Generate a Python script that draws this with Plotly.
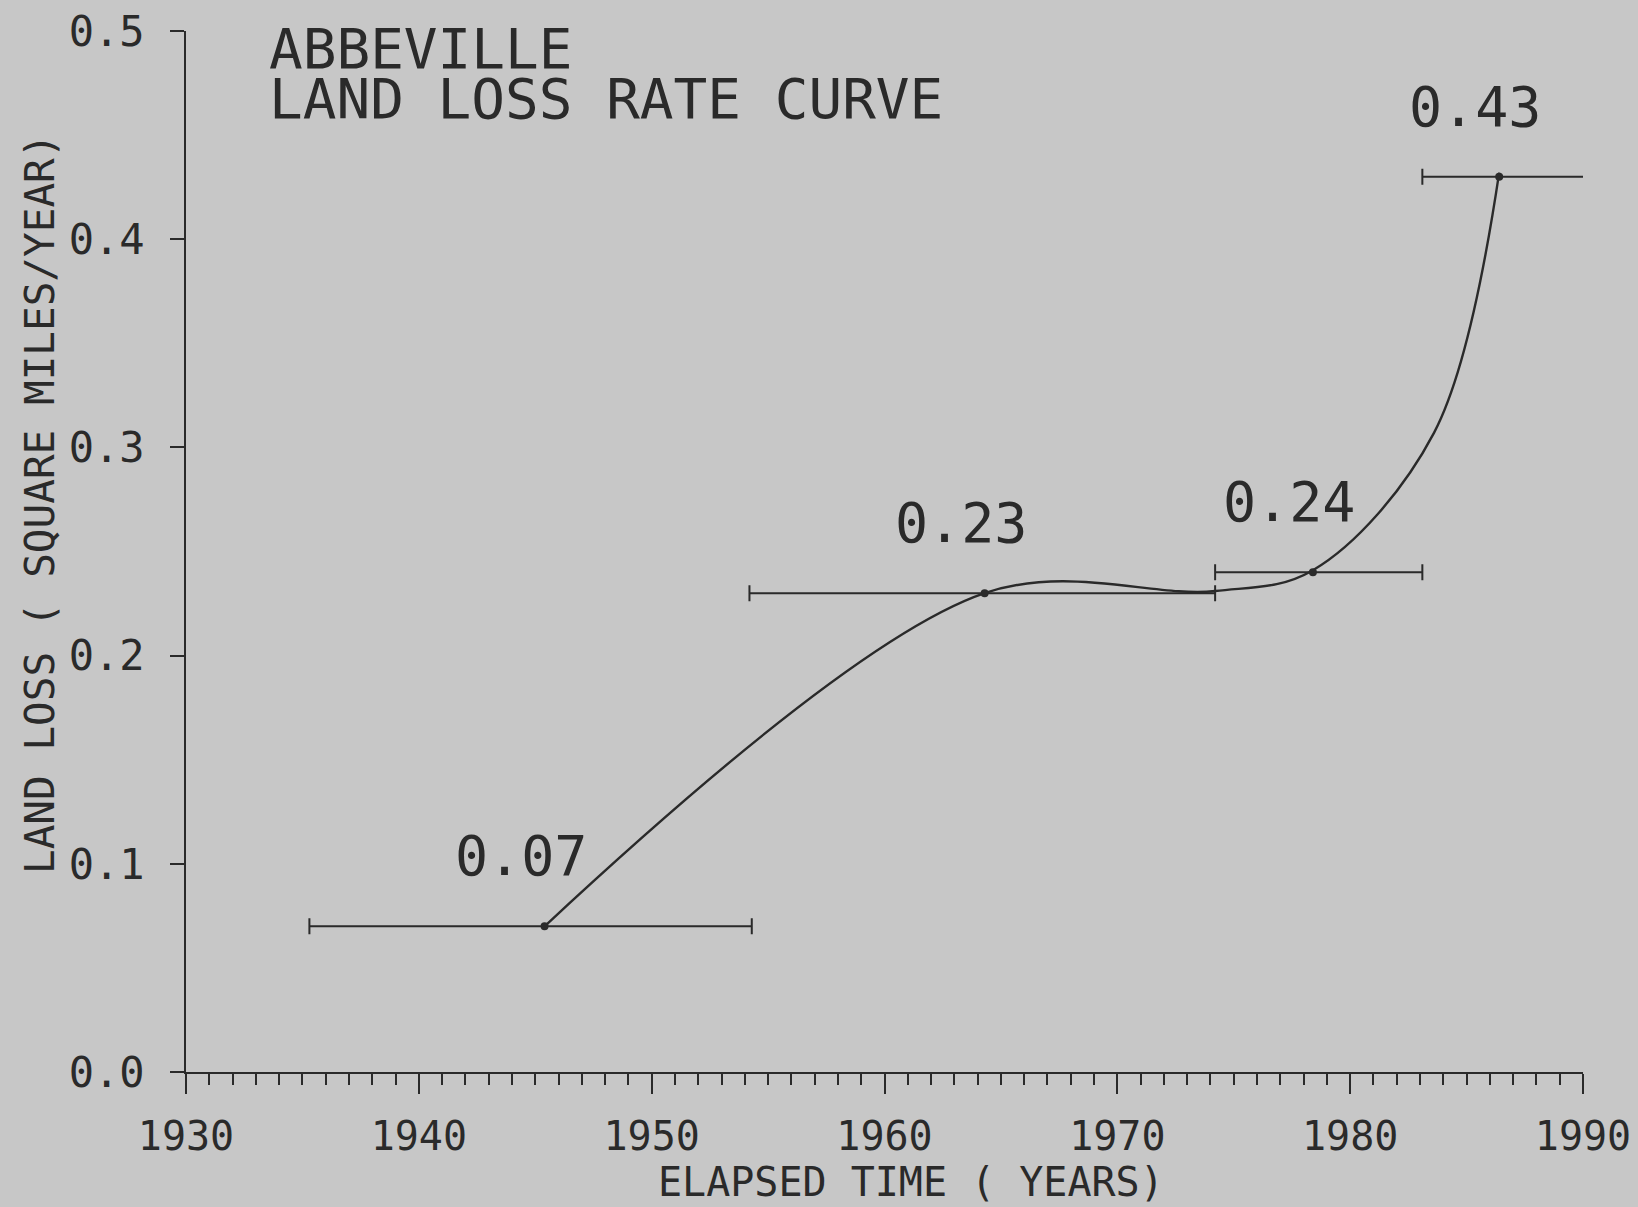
import plotly.graph_objects as go

# ---- data ----
period_start = [1935.3, 1954.2, 1974.2, 1983.1]
period_end = [1954.3, 1974.2, 1983.1, 1990.1]
mid_year = [1945.4, 1964.3, 1978.4, 1986.4]
loss_rate = [0.07, 0.23, 0.24, 0.43]
label_text = ["0.07", "0.23", "0.24", "0.43"]

# points
curve_year = [1945.4, 1964.3, 1974.2, 1978.4, 1983.6, 1986.4]
curve_rate = [0.07, 0.23, 0.231, 0.241, 0.307, 0.432]

x_ticks = [1930, 1940, 1950, 1960, 1970, 1980, 1990]
y_ticks = [0.0, 0.1, 0.2, 0.3, 0.4, 0.5]
y_tick_text = ["0.0", "0.1", "0.2", "0.3", "0.4", "0.5"]

INK = "#2a2a2a"
BG = "#c7c7c7"
FONT = "DejaVu Sans Mono"

fig = go.Figure()

fig.add_trace(go.Scatter(
    x=curve_year, y=curve_rate, mode="lines",
    line=dict(shape="spline", smoothing=1.0, color=INK, width=2.4),
    hoverinfo="skip", showlegend=False))

fig.add_trace(go.Scatter(
    x=mid_year, y=loss_rate, mode="markers",
    marker=dict(size=8, color=INK),
    error_x=dict(type="data", symmetric=False,
                 array=[e - m for e, m in zip(period_end, mid_year)],
                 arrayminus=[m - s for s, m in zip(period_start, mid_year)],
                 color=INK, thickness=2, width=8),
    showlegend=False))

for xv, yv, t in zip(mid_year, loss_rate, label_text):
    fig.add_annotation(x=xv, y=yv, text=t, showarrow=False,
                       xshift=-24, yshift=70,
                       font=dict(family=FONT, size=55, color=INK))

fig.add_annotation(xref="paper", yref="paper", x=0.058, y=0.983,
                   text="ABBEVILLE", showarrow=False, xanchor="left", yanchor="middle",
                   font=dict(family=FONT, size=56, color=INK))
fig.add_annotation(xref="paper", yref="paper", x=0.058, y=0.935,
                   text="LAND LOSS RATE CURVE", showarrow=False, xanchor="left", yanchor="middle",
                   font=dict(family=FONT, size=56, color=INK))

fig.add_annotation(xref="paper", yref="paper", x=0.519, y=-0.106,
                   text="ELAPSED TIME ( YEARS)", showarrow=False,
                   xanchor="center", yanchor="middle",
                   font=dict(family=FONT, size=40, color=INK))
fig.add_annotation(xref="paper", yref="paper", x=-0.1045, y=0.5456,
                   text="LAND LOSS ( SQUARE MILES/YEAR)", showarrow=False, textangle=-90,
                   xanchor="center", yanchor="middle",
                   font=dict(family=FONT, size=41, color=INK))

fig.update_layout(
    width=1638, height=1207,
    margin=dict(l=186, r=55, t=31, b=135),
    paper_bgcolor=BG, plot_bgcolor=BG,
    showlegend=False,
    xaxis=dict(range=[1930, 1990], tickvals=x_ticks, ticktext=[str(v) for v in x_ticks],
               automargin=False,
               showgrid=False, zeroline=False, showline=True, linecolor=INK, linewidth=2,
               ticks="outside", ticklen=20, tickwidth=2, tickcolor=INK,
               ticklabelstandoff=8,
               minor=dict(dtick=1, tick0=1930, ticks="outside", ticklen=11, tickwidth=2,
                          tickcolor=INK, showgrid=False),
               tickfont=dict(family=FONT, size=40, color=INK)),
    yaxis=dict(range=[0, 0.5], tickvals=y_ticks, ticktext=y_tick_text,
               automargin=False,
               showgrid=False, zeroline=False, showline=True, linecolor=INK, linewidth=2,
               ticks="outside", ticklen=14, tickwidth=2, tickcolor=INK,
               ticklabelstandoff=17,
               tickfont=dict(family=FONT, size=42, color=INK)),
)

fig.write_html("out.html", config={"displayModeBar": False},
               post_script="document.body.style.margin='0';document.body.style.padding='0';"
                           "document.body.style.background='" + BG + "';")
